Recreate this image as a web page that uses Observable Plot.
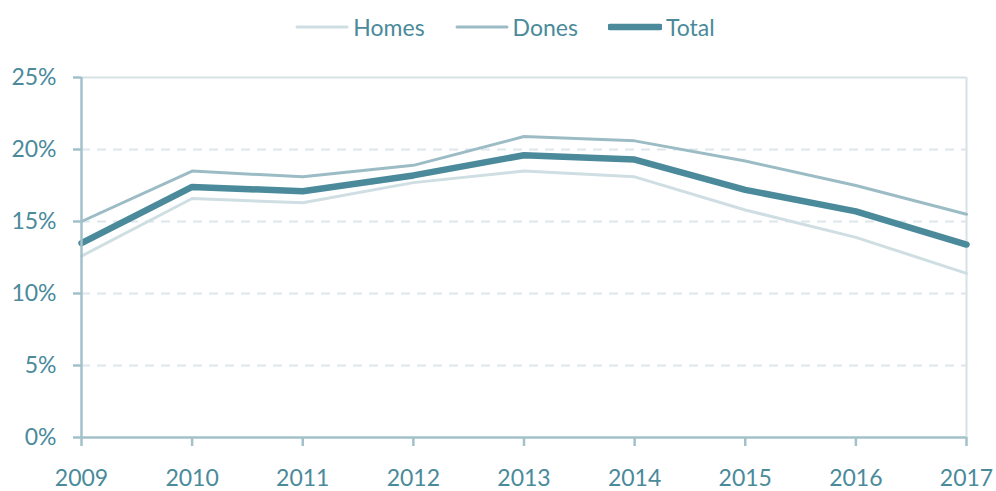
<!DOCTYPE html>
<html>
<head>
<meta charset="utf-8">
<script src="https://cdn.jsdelivr.net/npm/d3@7"></script>
<script src="https://cdn.jsdelivr.net/npm/@observablehq/plot@0.6"></script>
<style>
  body { margin: 0; background: #fff; font-family: Lato, "Open Sans", sans-serif; }
  #legend { height: 55px; display: flex; justify-content: center; align-items: center; gap: 30px; color: #4a8a9b; font-size: 23px; padding-left: 14px; padding-bottom: 2px; box-sizing: border-box; }
  #legend .item { display: flex; align-items: center; gap: 4px; }
  #chart svg { display: block; }
</style>
</head>
<body>
<div id="legend"></div>
<div id="chart"></div>
<script>
const years = [2009, 2010, 2011, 2012, 2013, 2014, 2015, 2016, 2017];
const homes = [12.6, 16.6, 16.3, 17.7, 18.5, 18.1, 15.8, 13.9, 11.4];
const dones = [15.0, 18.5, 18.1, 18.9, 20.9, 20.6, 19.2, 17.5, 15.5];
const total = [13.5, 17.4, 17.1, 18.2, 19.6, 19.3, 17.2, 15.7, 13.4];
const seriesNames = ["Homes", "Dones", "Total"];
const yTicks = [0, 5, 10, 15, 20, 25];

const colors = {Homes: "#cfdee3", Dones: "#9cbcc5", Total: "#4a8a9b"};
const widths = {Homes: 3, Dones: 3, Total: 6.5};
const values = {Homes: homes, Dones: dones, Total: total};

const rows = seriesNames.flatMap(s => years.map((y, i) => ({series: s, year: y, value: values[s][i]})));

// Legend
const legend = document.getElementById("legend");
for (const s of seriesNames) {
  const item = document.createElement("div");
  item.className = "item";
  item.innerHTML = `<svg width="54" height="10"><line x1="2" x2="52" y1="5" y2="5" stroke="${colors[s]}" stroke-width="${widths[s]}" stroke-linecap="round"/></svg><span>${s}</span>`;
  legend.appendChild(item);
}

const axisColor = "#a3c1ca";
const textColor = "#4a8a9b";

const chart = Plot.plot({
  width: 996,
  height: 436,
  marginLeft: 81,
  marginRight: 30,
  marginTop: 22,
  marginBottom: 54,
  style: {fontFamily: "Lato, 'Open Sans', sans-serif", fontSize: "23px", color: textColor, background: "#fff"},
  x: {domain: [2009, 2017]},
  y: {domain: [0, 25]},
  marks: [
    Plot.ruleY([5, 10, 15, 20], {stroke: "#dde6ea", strokeWidth: 2, strokeDasharray: "9,7"}),
    Plot.ruleY([25], {stroke: "#d6e2e6", strokeWidth: 2}),
    Plot.ruleX([2017], {stroke: "#d6e2e6", strokeWidth: 2}),
    Plot.line(rows.filter(d => d.series === "Homes"), {x: "year", y: "value", stroke: colors.Homes, strokeWidth: widths.Homes}),
    Plot.line(rows.filter(d => d.series === "Dones"), {x: "year", y: "value", stroke: colors.Dones, strokeWidth: widths.Dones}),
    Plot.line(rows.filter(d => d.series === "Total"), {x: "year", y: "value", stroke: colors.Total, strokeWidth: widths.Total}),
    Plot.ruleX([2009], {stroke: axisColor, strokeWidth: 2.5}),
    Plot.ruleY([0], {stroke: axisColor, strokeWidth: 2.5}),
    Plot.axisY({ticks: yTicks, tickFormat: d => d + "%", tickSize: 8, tickPadding: 17, stroke: axisColor, strokeWidth: 2.5, fill: textColor, fontSize: 23, label: null}),
    Plot.axisX({ticks: years, tickFormat: d => String(d), tickSize: 9, tickPadding: 23, stroke: axisColor, strokeWidth: 2.5, fill: textColor, fontSize: 23, label: null})
  ]
});
document.getElementById("chart").appendChild(chart);
</script>
</body>
</html>
